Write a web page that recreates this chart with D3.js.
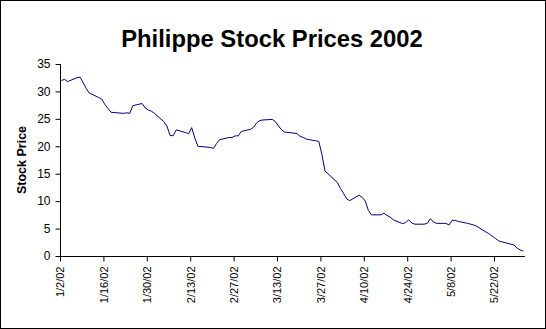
<!DOCTYPE html>
<html>
<head>
<meta charset="utf-8">
<script src="https://cdn.jsdelivr.net/npm/d3@7"></script>
<style>
html,body{margin:0;padding:0;background:#fff;}
svg{display:block;}
</style>
</head>
<body>
<svg id="chart" width="546" height="329"></svg>
<script>
const title = "Philippe Stock Prices 2002";
const yTitle = "Stock Price";
const dates = [
 "1/2/02","1/3/02","1/4/02","1/7/02","1/8/02","1/9/02","1/10/02","1/11/02","1/14/02","1/15/02",
 "1/16/02","1/17/02","1/18/02","1/22/02","1/23/02","1/24/02","1/25/02","1/28/02","1/29/02","1/30/02",
 "1/31/02","2/1/02","2/4/02","2/5/02","2/6/02","2/7/02","2/8/02","2/11/02","2/12/02","2/13/02",
 "2/14/02","2/15/02","2/19/02","2/20/02","2/21/02","2/22/02","2/25/02","2/26/02","2/27/02","2/28/02",
 "3/1/02","3/4/02","3/5/02","3/6/02","3/7/02","3/8/02","3/11/02","3/12/02","3/13/02","3/14/02",
 "3/15/02","3/18/02","3/19/02","3/20/02","3/21/02","3/22/02","3/25/02","3/26/02","3/27/02","3/28/02",
 "4/1/02","4/2/02","4/3/02","4/4/02","4/5/02","4/8/02","4/9/02","4/10/02","4/11/02","4/12/02",
 "4/15/02","4/16/02","4/17/02","4/18/02","4/19/02","4/22/02","4/23/02","4/24/02","4/25/02","4/26/02",
 "4/29/02","4/30/02","5/1/02","5/2/02","5/3/02","5/6/02","5/7/02","5/8/02","5/9/02","5/10/02",
 "5/13/02","5/14/02","5/15/02","5/16/02","5/17/02","5/20/02","5/21/02","5/22/02","5/23/02","5/24/02",
 "5/28/02","5/29/02","5/30/02","5/31/02"
];
const prices = [
 32.0,32.2,31.8,32.5,32.6,31.6,30.5,29.7,28.9,28.6,
 27.6,26.9,26.2,26.0,26.1,26.0,27.4,27.8,27.0,26.6,
 26.4,26.0,24.5,23.7,22.0,21.9,23.0,22.5,22.3,23.4,
 21.5,20.0,19.8,19.6,20.5,21.2,21.6,21.6,21.9,21.9,
 22.7,23.1,23.5,24.3,24.7,24.8,24.9,24.5,23.7,23.0,
 22.6,22.4,22.3,21.8,21.6,21.3,21.0,20.9,18.5,15.5,
 13.4,12.3,11.4,10.4,10.1,11.1,10.7,10.0,8.3,7.5,
 7.5,7.8,7.4,7.1,6.6,5.9,6.1,6.6,6.0,5.8,
 5.8,5.95,6.8,6.2,5.95,5.95,5.65,6.5,6.5,6.3,
 5.95,5.8,5.65,5.4,5.05,4.0,3.6,3.2,2.75,2.6,
 2.0,1.4,1.1,0.9
];
const xTickLabels = ["1/2/02","1/16/02","1/30/02","2/13/02","2/27/02","3/13/02","3/27/02","4/10/02","4/24/02","5/8/02","5/22/02"];
const yTickValues = [0,5,10,15,20,25,30,35];
const xStart = "1/2/02", xEnd = "6/1/02";

const parse = d3.timeParse("%m/%d/%y");
const fmt = d3.timeFormat("%-m/%-d/%y");
const data = dates.map((d,i)=>({date:parse(d), value:prices[i]}));

const svg = d3.select("#chart");
const mLeft = 60, mRight = 525, mTop = 64, mBottom = 256;

svg.append("rect").attr("x",0.5).attr("y",0.5).attr("width",545).attr("height",328)
  .attr("fill","#fff").attr("stroke","#000").attr("stroke-width",1);

const x = d3.scaleTime().domain([parse(xStart), parse(xEnd)]).range([mLeft, mRight]);
const y = d3.scaleLinear().domain([0,35]).range([mBottom, mTop]);

const font = "Arial, 'Liberation Sans', sans-serif";

// Title
svg.append("text").attr("x",272).attr("y",47).attr("text-anchor","middle")
  .attr("font-family",font).attr("font-weight","bold").attr("font-size",23.8)
  .text(title);

// Y axis title
svg.append("text").attr("transform","translate(26,160) rotate(-90)")
  .attr("text-anchor","middle").attr("font-family",font).attr("font-weight","bold")
  .attr("font-size",12.5).text(yTitle);

// Y axis
const yAxis = d3.axisLeft(y).tickValues(yTickValues).tickSize(5).tickPadding(5).tickFormat(d3.format("d"));
const gy = svg.append("g").attr("transform",`translate(${mLeft+0.5},0)`).call(yAxis);
gy.select(".domain").attr("d",`M0,${mTop}V${mBottom}`).attr("stroke","#000");
gy.selectAll(".tick line").attr("stroke","#000");
gy.selectAll(".tick text").attr("font-family",font).attr("font-size",12).attr("fill","#000");

// X axis
const xAxis = d3.axisBottom(x).tickValues(xTickLabels.map(parse)).tickSize(5).tickFormat(fmt);
const gx = svg.append("g").attr("transform",`translate(0,${mBottom+0.5})`).call(xAxis);
gx.select(".domain").attr("d",`M${mLeft},0H${mRight}`).attr("stroke","#000");
gx.selectAll(".tick line").attr("stroke","#000");
gx.selectAll(".tick text").attr("font-family",font).attr("font-size",11).attr("fill","#000")
  .attr("text-anchor","end").attr("dy","0.35em")
  .attr("transform","translate(0,10) rotate(-90)").attr("x",0).attr("y",0);

// Line
const line = d3.line().x(d=>x(d.date)+1.5).y(d=>y(d.value));
svg.append("path").datum(data).attr("d",line).attr("fill","none")
  .attr("stroke","#000080").attr("stroke-width",1);
</script>
</body>
</html>
